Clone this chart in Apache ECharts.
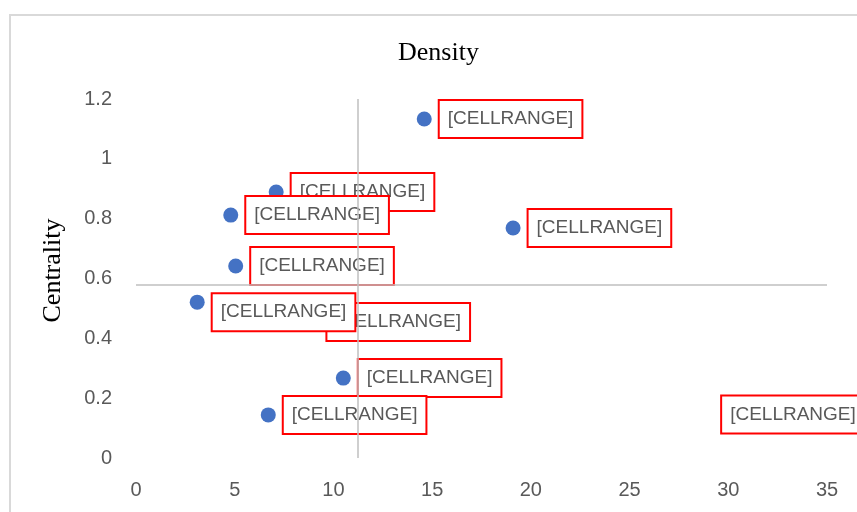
<!DOCTYPE html>
<html>
<head>
<meta charset="utf-8">
<script src="https://cdn.jsdelivr.net/npm/echarts@6/dist/echarts.min.js"></script>
<style>
  html, body { margin: 0; padding: 0; background: #fff; }
  #main { width: 857px; height: 512px; }
</style>
</head>
<body>
<div id="main"></div>
<script>
// density (x) and centrality (y), one entry per point
var density    = [14.6, 7.1, 4.8, 19.1, 5.05, 8.91, 3.1, 10.5, 6.7, 32.5];
var centrality = [1.133, 0.889, 0.812, 0.769, 0.642, 0.455, 0.521, 0.267, 0.144, 0.145];
var labels = ['[CELLRANGE]', '[CELLRANGE]', '[CELLRANGE]', '[CELLRANGE]', '[CELLRANGE]',
              '[CELLRANGE]', '[CELLRANGE]', '[CELLRANGE]', '[CELLRANGE]', '[CELLRANGE]'];
var xTicks = [0, 5, 10, 15, 20, 25, 30, 35];
var yTicks = [0, 0.2, 0.4, 0.6, 0.8, 1, 1.2];
// where the two axes cross each other
var crossX = 11.24;
var crossY = 0.578;

var points = [];
for (var i = 0; i < density.length; i++) {
  var item = { value: [density[i], centrality[i]], name: labels[i] };
  points.push(item);
}
// a couple of labels were moved by hand in the original
points[6].label = { offset: [0, 10] };
points[9].label = { offset: [-71, 0] };

var myChart = echarts.init(document.getElementById('main'));
var option = {
  animation: false,
  title: {
    text: 'Density',
    left: 398,
    top: 40,
    padding: 0,
    textStyle: {
      fontFamily: 'Liberation Serif',
      fontSize: 26,
      fontWeight: 'normal',
      color: '#000'
    }
  },
  graphic: [{
    type: 'rect',
    shape: { x: 10, y: 15, width: 900, height: 600 },
    style: { fill: 'none', stroke: '#d9d9d9', lineWidth: 2 },
    silent: true
  }],
  grid: { left: 136, right: 30, top: 99, bottom: 54 },
  xAxis: {
    type: 'value',
    min: xTicks[0],
    max: xTicks[xTicks.length - 1],
    interval: 5,
    axisLine: { show: false },
    axisTick: { show: false },
    splitLine: { show: false },
    axisLabel: {
      margin: 22,
      fontFamily: 'Liberation Sans',
      fontSize: 20,
      color: '#595959'
    }
  },
  yAxis: {
    type: 'value',
    min: yTicks[0],
    max: yTicks[yTicks.length - 1],
    interval: 0.2,
    name: 'Centrality',
    nameLocation: 'middle',
    nameGap: 70,
    nameTextStyle: {
      fontFamily: 'Liberation Serif',
      fontSize: 26,
      color: '#000',
      padding: [0, 0, 0, 16]
    },
    axisLine: { show: false },
    axisTick: { show: false },
    splitLine: { show: false },
    axisLabel: {
      margin: 24,
      fontFamily: 'Liberation Sans',
      fontSize: 20,
      color: '#595959'
    }
  },
  series: [{
    type: 'scatter',
    symbol: 'circle',
    symbolSize: 15,
    clip: false,
    itemStyle: { color: '#4472C4', opacity: 1 },
    data: points,
    label: {
      show: true,
      position: 'right',
      distance: 8,
      formatter: '{b}',
      fontFamily: 'Liberation Sans',
      fontSize: 19,
      lineHeight: 22,
      color: '#595959',
      backgroundColor: '#fff',
      borderColor: '#ff0000',
      borderWidth: 2,
      padding: [7, 8]
    },
    markLine: {
      silent: true,
      symbol: ['none', 'none'],
      label: { show: false },
      lineStyle: { color: '#bfbfbf', width: 1.5, type: 'solid', opacity: 1 },
      data: [{ xAxis: crossX }, { yAxis: crossY }]
    }
  }]
};
myChart.setOption(option);
</script>
</body>
</html>
